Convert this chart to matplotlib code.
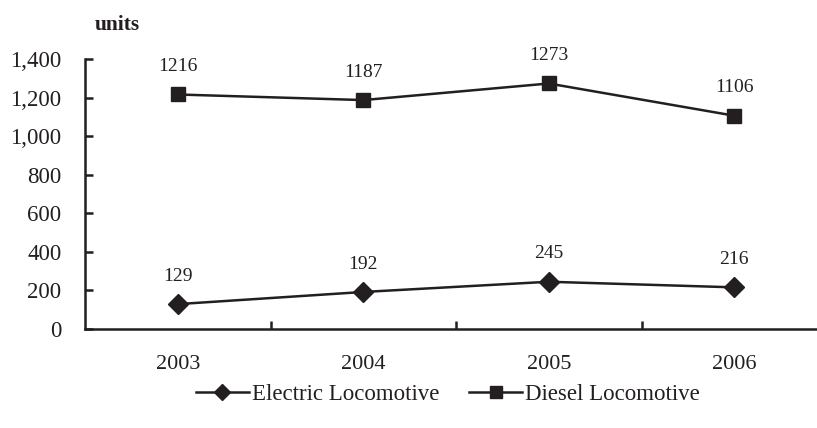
import matplotlib
matplotlib.use("Agg")
import matplotlib.pyplot as plt
from matplotlib.ticker import FuncFormatter, FixedLocator

years = ["2003", "2004", "2005", "2006"]
electric = [129, 192, 245, 216]
diesel = [1216, 1187, 1273, 1106]
y_ticks = [0, 200, 400, 600, 800, 1000, 1200, 1400]

ink = "#231f20"
plt.rcParams["font.family"] = ["Liberation Serif", "DejaVu Serif"]

fig = plt.figure(figsize=(8.17, 4.28), dpi=100)
ax = fig.add_axes([85 / 817, 1 - 329 / 428, 742 / 817, 270 / 428])

x = list(range(len(years)))
ax.plot(x, electric, color=ink, lw=1.8, marker="D", ms=10, mfc=ink, mec=ink,
        label="Electric Locomotive")
ax.plot(x, diesel, color=ink, lw=1.8, marker="s", ms=10.5, mfc=ink, mec=ink,
        label="Diesel Locomotive")

for xi, v in zip(x, electric):
    ax.annotate(str(v), (xi, v), xytext=(0, 14), textcoords="offset points",
                ha="center", va="bottom", fontsize=14, color=ink)
for xi, v in zip(x, diesel):
    ax.annotate(str(v), (xi, v), xytext=(0, 14), textcoords="offset points",
                ha="center", va="bottom", fontsize=14, color=ink)

ax.set_xlim(-0.5, 3.5)
ax.set_ylim(0, 1400)
ax.set_yticks(y_ticks)
ax.yaxis.set_major_formatter(FuncFormatter(lambda v, p: f"{int(v):,}"))
ax.set_xticks(x)
ax.set_xticklabels(years)
ax.xaxis.set_minor_locator(FixedLocator([0.5, 1.5, 2.5]))

for s in ("top", "right"):
    ax.spines[s].set_visible(False)
for s in ("left", "bottom"):
    ax.spines[s].set_linewidth(1.8)
    ax.spines[s].set_color(ink)

ax.tick_params(axis="y", direction="in", length=6, width=1.8, color=ink,
               labelsize=16.5, labelcolor=ink, pad=17)
ax.tick_params(axis="x", which="major", length=0, labelsize=16,
               labelcolor=ink, pad=19)
ax.tick_params(axis="x", which="minor", direction="in", length=6, width=1.8,
               color=ink)

fig.text(117 / 817, 1 - 25 / 428, "units", ha="center", va="center",
         fontsize=15.5, fontweight="bold", color=ink)

fig.legend(loc="center", bbox_to_anchor=(448 / 817, 1 - 394 / 428), ncol=2,
           frameon=False, fontsize=16.5, handlelength=2.3, handletextpad=0.15,
           columnspacing=1.3, markerscale=0.85, labelcolor=ink)

fig.savefig("out.png", dpi=100)
